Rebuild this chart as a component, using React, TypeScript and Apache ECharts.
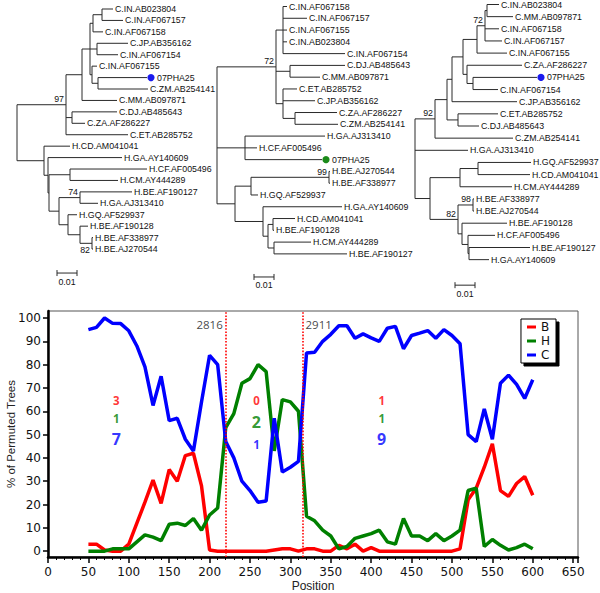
import React, { useEffect, useRef } from 'react';
import * as echarts from 'echarts';

// ---------------- Bootscan data ----------------
const positions = [50, 60, 70, 80, 90, 100, 110, 120, 130, 140, 150, 160, 170, 180, 190, 200, 210, 220, 230, 240, 250, 260, 270, 280, 290, 300, 310, 320, 330, 340, 350, 360, 370, 380, 390, 400, 410, 420, 430, 440, 450, 460, 470, 480, 490, 500, 510, 520, 530, 540, 550, 560, 570, 580, 590, 600];
const seriesB = [3, 3, 0.5, 0, 0, 3, 12, 21, 30.5, 20.5, 35, 30, 41, 42, 28, 0.5, 0, 0, 0, 0, 0, 0, 0, 0.5, 1, 1, 0, 1, 1, 0, 0, 2.5, 1, 3, 0, 1.5, 0, 0, 0, 0, 0, 0, 0, 0, 0, 0, 1, 22, 27, 36, 46, 26, 23.5, 29, 32, 24];
const seriesH = [0, 0, 0, 1, 1, 1, 4, 7, 6, 4.5, 11.5, 12, 11, 14, 9, 15.5, 18.5, 53, 59, 72, 74, 80, 77, 43, 65, 64, 60, 15, 13, 9, 6.5, 1, 2, 5.5, 6.5, 7.5, 9, 4, 3, 14, 6.5, 6.5, 4.5, 7.5, 4.5, 6.5, 9, 26, 27, 2, 5, 2.5, 0.5, 1.5, 3, 1];
const seriesC = [95, 96, 100, 97.7, 97.6, 94.5, 88, 79, 62.5, 75, 56, 57, 48, 43, 64, 84, 80, 47, 40, 30, 26, 21, 21.5, 57, 34, 36, 38.5, 85, 85.3, 90, 93, 96.7, 96.7, 91.3, 93.2, 91.5, 90, 95.6, 96.4, 86.8, 92.5, 93.5, 94.6, 91.3, 95, 92.5, 89, 50, 47, 61, 48, 72, 75.5, 71.5, 65.5, 73.5];
const seriesNames = ['B', 'H', 'C'];
const seriesColors = ['#ff0000', '#008000', '#0000ff'];

const breakpoints = [220, 315];
const breakpointLabels = ['2816', '2911'];

const yTicks = [0, 10, 20, 30, 40, 50, 60, 70, 80, 90, 100];

// segment counts (B, H, C) per region
const regionCenters = [84.5, 258, 413];
const regionCountsB = ['3', '0', '1'];
const regionCountsH = ['1', '2', '1'];
const regionCountsC = ['7', '1', '9'];
const regionMajority = ['C', 'H', 'C'];

// ---------------- Trees (Newick, branch lengths in substitutions/site) ----------------
const tree1 = `(
  (
    (
      (
        ((C.IN.AB023804:0.0055,C.IN.AF067157:0.0105):0.0045,C.IN.AF067158:0.005):0.0015,
        (C.JP.AB356162:0.0155,C.IN.AF067154:0.0105):0.0035,
        (C.IN.AF067155:0.0025,(07PHA25:0.0245,C.ZM.AB254141:0.025):0.003):0.001
      ):0.004,
      C.MM.AB097871:0.0175
    ):0.008,
    (C.DJ.AB485643:0.0225,C.ZA.AF286227:0.0065):0.003,
    C.ET.AB285752:0.031
  )97:0.0245,
  (
    H.CD.AM041041:0.013,
    (
      H.GA.AY140609:0.037,
      (
        (H.CF.AF005496:0.0385,H.CM.AY444289:0.024):0.0105,
        (
          (H.BE.AF190127:0.026,H.GA.AJ313410:0.009)74:0.0105,
          (H.GQ.AF529937:0.0045,(H.BE.AF190128:0.004,(H.BE.AF338977:0.0005,H.BE.AJ270544:0.0005)82:0.006):0.006):0.0045
        ):0.005
      ):0.0005
    ):0.002
  ):0.0135
);`;

const tree2 = `(
  (
    (C.IN.AF067158:0.002,C.IN.AF067157:0.012,C.IN.AF067155:0.002,C.IN.AB023804:0.002,C.IN.AF067154:0.031):0.0035,
    (C.DJ.AB485643:0.0275,C.MM.AB097871:0.015):0.007,
    (C.ET.AB285752:0.007,C.JP.AB356162:0.016,(C.ZA.AF286227:0.021,C.ZM.AB254141:0.0215):0.006):0.0035
  )72:0.0295,
  (H.GA.AJ313410:0.04,H.CF.AF005496:0.006,07PHA25:0.0385):0.014,
  (
    ((H.BE.AJ270544:0.0005,H.BE.AF338977:0.0005)99:0.039,H.GQ.AF529937:0.0035):0.008,
    (
      H.GA.AY140609:0.0395,
      ((H.CD.AM041041:0.011,H.BE.AF190128:0.0005):0.0025,(H.CM.AY444289:0.0185,H.BE.AF190127:0.0365):0.003):0.0025
    ):0.014
  ):0.009
);`;

const tree3 = `(
  (
    (
      (
        (
          (
            ((C.IN.AB023804:0.006,C.MM.AB097871:0.013):0.001,C.IN.AF067158:0.007,C.IN.AF067157:0.0085)72:0.004,
            C.IN.AF067155:0.015
          ):0.007,
          (C.ZA.AF286227:0.0275,(07PHA25:0.032,C.IN.AF067154:0.0125):0.003):0.002
        ):0.0055,
        C.JP.AB356162:0.0325
      ):0.0025,
      (C.ET.AB285752:0.02,C.DJ.AB485643:0.0105):0.0055
    ):0.006,
    C.ZM.AB254141:0.039
  )92:0.01,
  H.GA.AJ313410:0.0265,
  (
    ((H.GQ.AF529937:0.0265,H.CD.AM041041:0.026):0.009,H.CM.AY444289:0.026):0.015,
    (
      (H.BE.AF338977:0.0005,H.BE.AJ270544:0.0005)98:0.0075,
      (H.BE.AF190128:0.0225,(H.CF.AF005496:0.0135,(H.BE.AF190127:0.0305,H.GA.AY140609:0.01):0.0005):0.003):0.002
    )82:0.014
  ):0.0075
);`;

const queryName = '07PHA25';
const scaleBarLength = 0.01;
const scaleBarLabel = '0.01';

// layout of each tree panel (pixels); 150 px panel width = 0.075 substitutions/site
const treePanels = [
  { newick: tree1, left: 17, top: 9, step: 11.43, mark: '#1a1aee', barX: 0.02, barY: 23.1, below: ['82'] },
  { newick: tree2, left: 217, top: 6.5, step: 11.78, mark: '#1a8a1a', barX: 0.0185, barY: 22.96, below: [] as string[] },
  { newick: tree3, left: 415, top: 4.5, step: 12.15, mark: '#1a1aee', barX: 0.02, barY: 23.1, below: [] as string[] },
];

type TNode = { name: string; len: number; children: TNode[]; x: number; y: number };

function parseNewick(src: string): TNode {
  const s = src.replace(/\s+/g, '');
  let i = 0;
  const read = (): TNode => {
    const n: TNode = { name: '', len: 0, children: [], x: 0, y: 0 };
    if (s[i] === '(') {
      i++;
      n.children.push(read());
      while (s[i] === ',') { i++; n.children.push(read()); }
      i++;
    }
    let name = '';
    while (i < s.length && ':,);'.indexOf(s[i]) < 0) name += s[i++];
    n.name = name;
    if (s[i] === ':') {
      i++;
      let num = '';
      while (i < s.length && ',);'.indexOf(s[i]) < 0) num += s[i++];
      n.len = parseFloat(num);
    }
    return n;
  };
  return read();
}

type El = {
  kind: 'seg' | 'leaf' | 'support' | 'scale';
  x: number; y: number; x2?: number; y2?: number;
  text?: string; mark?: boolean; below?: boolean;
};

function treeElements(newick: string, below: string[], barX: number, barY: number): El[] {
  const root = parseNewick(newick);
  root.len = 0;
  let leaf = 0;
  const place = (n: TNode, x0: number) => {
    n.x = x0 + n.len;
    if (!n.children.length) n.y = leaf++;
    else {
      n.children.forEach(c => place(c, n.x));
      n.y = (n.children[0].y + n.children[n.children.length - 1].y) / 2;
    }
  };
  place(root, 0);
  const els: El[] = [];
  const walk = (n: TNode, parent: TNode | null) => {
    if (parent) els.push({ kind: 'seg', x: parent.x, y: n.y, x2: n.x, y2: n.y });
    if (n.children.length) {
      els.push({ kind: 'seg', x: n.x, y: n.children[0].y, x2: n.x, y2: n.children[n.children.length - 1].y });
      if (n.name) els.push({ kind: 'support', x: n.x, y: n.y, text: n.name, below: below.indexOf(n.name) >= 0 });
      n.children.forEach(c => walk(c, n));
    } else {
      els.push({ kind: 'leaf', x: n.x, y: n.y, text: n.name, mark: n.name === queryName });
    }
  };
  walk(root, null);
  els.push({ kind: 'scale', x: barX, y: barY, x2: barX + scaleBarLength, y2: barY, text: scaleBarLabel });
  return els;
}

const TREE_FONT = 'Liberation Sans';
const TREE_FONT_SIZE = 8.8;
const LINE = '#2a2a2a';

function txt(x: number, y: number, text: string, align: string, valign: string, size = TREE_FONT_SIZE) {
  return {
    type: 'text', x, y,
    style: {
      text, fill: '#111', fontSize: size, fontFamily: TREE_FONT,
      align, verticalAlign: valign, textAlign: align, textVerticalAlign: valign,
    },
  };
}

function makeRender(els: El[], markColor: string) {
  return (params: any, api: any) => {
    const e = els[params.dataIndex];
    if (e.kind === 'seg') {
      const a = api.coord([e.x, e.y]);
      const b = api.coord([e.x2, e.y2]);
      return { type: 'line', shape: { x1: a[0], y1: a[1], x2: b[0], y2: b[1] }, style: { stroke: LINE, lineWidth: 1 } };
    }
    if (e.kind === 'leaf') {
      const p = api.coord([e.x, e.y]);
      const children: any[] = [];
      let tx = p[0] + 2;
      if (e.mark) {
        children.push({ type: 'circle', shape: { cx: p[0] + 4, cy: p[1], r: 3.6 }, style: { fill: markColor } });
        tx = p[0] + 10;
      }
      children.push(txt(tx, p[1], e.text as string, 'left', 'middle'));
      return { type: 'group', children };
    }
    if (e.kind === 'support') {
      const p = api.coord([e.x, e.y]);
      return e.below
        ? txt(p[0] - 2, p[1] + 2, e.text as string, 'right', 'top')
        : txt(p[0] - 2, p[1] - 1, e.text as string, 'right', 'bottom');
    }
    const a = api.coord([e.x, e.y]);
    const b = api.coord([e.x2, e.y2]);
    return {
      type: 'group',
      children: [
        { type: 'line', shape: { x1: a[0], y1: a[1], x2: b[0], y2: b[1] }, style: { stroke: LINE, lineWidth: 1 } },
        { type: 'line', shape: { x1: a[0], y1: a[1] - 3, x2: a[0], y2: a[1] + 3 }, style: { stroke: LINE, lineWidth: 1 } },
        { type: 'line', shape: { x1: b[0], y1: b[1] - 3, x2: b[0], y2: b[1] + 3 }, style: { stroke: LINE, lineWidth: 1 } },
        txt((a[0] + b[0]) / 2, a[1] + 4, e.text as string, 'center', 'top'),
      ],
    };
  };
}

function buildOption() {
  const grids: any[] = [];
  const xAxes: any[] = [];
  const yAxes: any[] = [];
  const series: any[] = [];

  treePanels.forEach((t, k) => {
    const els = treeElements(t.newick, t.below, t.barX, t.barY);
    const nLeaves = els.filter(e => e.kind === 'leaf').length;
    grids.push({ left: t.left, top: t.top, width: 150, height: (nLeaves - 1) * t.step, outerBoundsMode: 'none', containLabel: false });
    xAxes.push({ gridIndex: k, type: 'value', min: 0, max: 0.075, show: false });
    yAxes.push({ gridIndex: k, type: 'value', min: 0, max: nLeaves - 1, inverse: true, show: false });
    series.push({
      type: 'custom', xAxisIndex: k, yAxisIndex: k, silent: true, clip: false,
      data: els.map(e => [e.x, e.y]),
      renderItem: makeRender(els, t.mark),
    });
  });

  const g = 3;
  grids.push({
    left: 48, right: 22, top: 311, height: 246, show: true, borderColor: '#555', borderWidth: 1,
    outerBoundsMode: 'none', containLabel: false,
  });
  xAxes.push({
    gridIndex: g, type: 'value', min: 0, max: 656, interval: 50,
    name: 'Position', nameLocation: 'middle', nameGap: 23,
    nameTextStyle: { fontFamily: 'Liberation Sans', fontSize: 12, color: '#222' },
    axisLine: { show: true, onZero: false, lineStyle: { color: '#000', width: 2.5 } },
    axisTick: { show: true, length: 6, lineStyle: { color: '#000', width: 1.5 } },
    minorTick: { show: true, splitNumber: 5, length: 3, lineStyle: { color: '#000', width: 1 } },
    axisLabel: { fontFamily: 'DejaVu Sans', fontSize: 12, color: '#111', margin: 9, showMaxLabel: false },
    splitLine: { show: false },
  });
  yAxes.push({
    gridIndex: g, type: 'value', min: -2.5, max: 103,
    name: '% of Permuted Trees', nameLocation: 'middle', nameGap: 31, nameMoveOverlap: false,
    nameTextStyle: { fontFamily: 'Liberation Sans', fontSize: 11.5, color: '#222' },
    axisLine: { show: true, onZero: false, lineStyle: { color: '#000', width: 2.5 } },
    axisTick: { show: true, length: 5, customValues: yTicks, lineStyle: { color: '#000', width: 1.5 } },
    axisLabel: { fontFamily: 'DejaVu Sans', fontSize: 12, color: '#111', margin: 7, customValues: yTicks },
    splitLine: { show: false },
  });

  const lineData = [seriesB, seriesH, seriesC];
  seriesNames.forEach((name, i) => {
    series.push({
      type: 'line', name, xAxisIndex: g, yAxisIndex: g, symbol: 'none', silent: true,
      color: seriesColors[i],
      lineStyle: { color: seriesColors[i], width: 3.5 },
      data: positions.map((p, j) => [p, lineData[i][j]]),
    });
  });

  const notes: any[] = [];
  regionCenters.forEach((cx, r) => {
    const big = regionMajority[r];
    const rows = [
      { t: regionCountsB[r], c: seriesColors[0], key: 'B' },
      { t: regionCountsH[r], c: seriesColors[1], key: 'H' },
      { t: regionCountsC[r], c: seriesColors[2], key: 'C' },
    ];
    const ys = [64.6, 57, 48];
    rows.forEach((row, q) => {
      const isBig = row.key === big;
      let y = ys[q];
      if (q === 1 && isBig) y = 55.5;
      if (q === 2 && !isBig) y = 45.8;
      notes.push({
        value: [cx, y],
        label: {
          show: true, position: 'inside', formatter: row.t, color: row.c,
          fontSize: isBig ? 16 : 11.5, fontWeight: 'bold', fontFamily: 'Noto Sans', lineHeight: isBig ? 17 : 12,
        },
      });
    });
  });
  series.push({
    type: 'scatter', name: 'notes', xAxisIndex: g, yAxisIndex: g, symbolSize: 0, silent: true,
    data: notes,
    markLine: {
      silent: true, symbol: 'none', animation: false,
      label: { show: false },
      lineStyle: { color: '#ff0000', type: 'dotted', width: 1.6 },
      data: breakpoints.map(b => ({ xAxis: b })),
    },
  });
  series.push({
    type: 'scatter', name: 'breaks', xAxisIndex: g, yAxisIndex: g, symbolSize: 0, silent: true,
    data: breakpoints.map((b, i) => ({
      value: [b, 97.2],
      label: {
        show: true, formatter: breakpointLabels[i], position: i === 0 ? 'left' : 'right', distance: 3,
        color: '#111', fontSize: 11.5, fontFamily: 'Open Sans',
      },
    })),
  });

  return {
    animation: false,
    backgroundColor: '#ffffff',
    grid: grids,
    xAxis: xAxes,
    yAxis: yAxes,
    legend: {
      data: seriesNames, orient: 'vertical', right: 44, top: 319,
      icon: 'rect', itemWidth: 9, itemHeight: 3, itemGap: 2,
      padding: [2, 6, 2, 6],
      backgroundColor: '#fff', borderColor: '#000', borderWidth: 1,
      shadowColor: '#000', shadowBlur: 0.01, shadowOffsetX: 3, shadowOffsetY: 3,
      textStyle: { fontFamily: 'DejaVu Sans', fontSize: 12, lineHeight: 12, color: '#111' },
      selectedMode: false,
    },
    series,
  };
}

export default function App() {
  const ref = useRef<HTMLDivElement>(null);
  useEffect(() => {
    const chart = echarts.init(ref.current as HTMLDivElement, undefined, { renderer: 'svg' });
    chart.setOption(buildOption() as any);
    return () => chart.dispose();
  }, []);
  return (
    <div
      ref={ref}
      style={{ position: 'fixed', left: 0, top: 0, width: 600, height: 593, background: '#fff' }}
    />
  );
}
